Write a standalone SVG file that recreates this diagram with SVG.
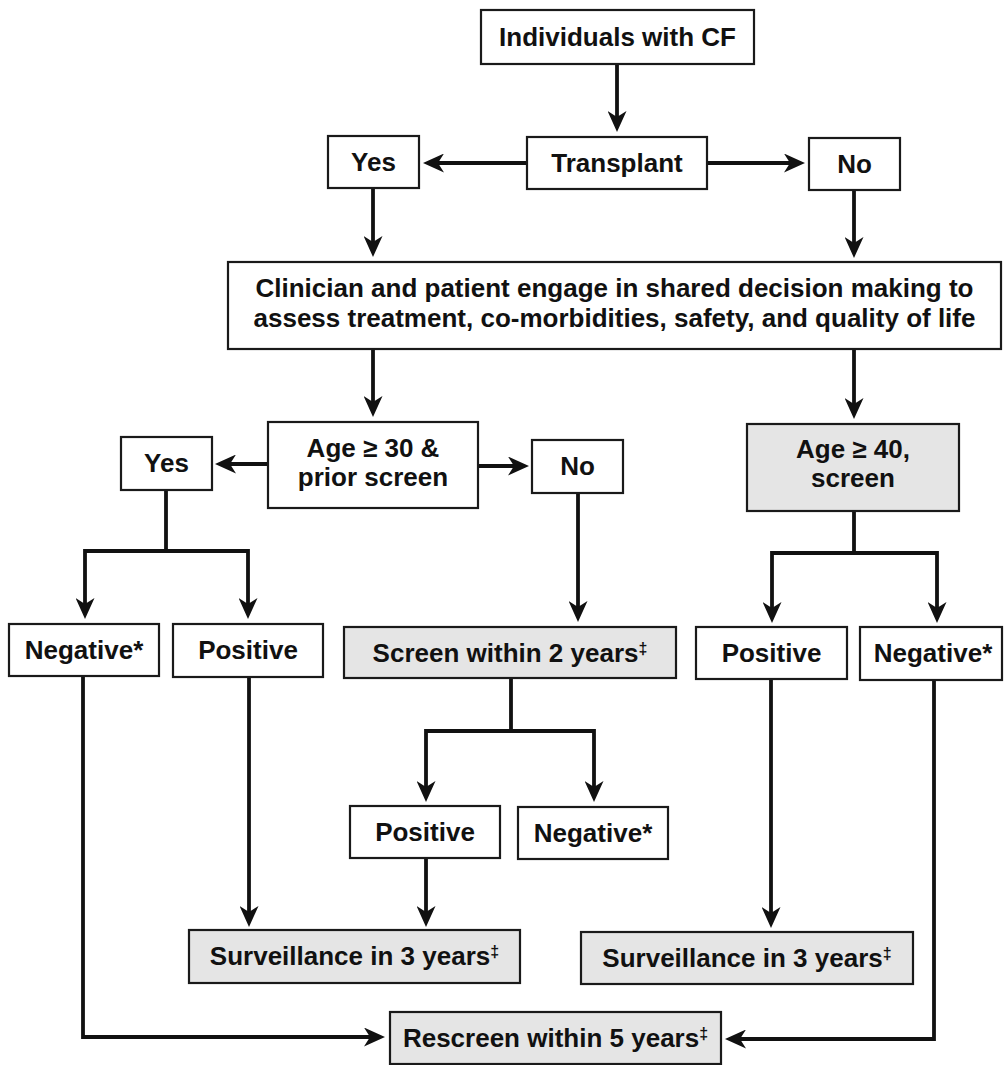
<svg xmlns="http://www.w3.org/2000/svg" width="1004" height="1065" viewBox="0 0 1004 1065">
<style>
.box{fill:#ffffff;stroke:#1a1a1a;stroke-width:2.2}
.gray{fill:#e5e5e5}
.t{font-family:"Liberation Sans",Arial,Helvetica,sans-serif;font-weight:bold;font-size:26px;fill:#111;text-anchor:middle}
.sup{font-size:16px}
.c{fill:none;stroke:#111;stroke-width:3.8;stroke-linejoin:miter;marker-end:url(#ah)}
</style>
<defs>
<marker id="ah" markerUnits="userSpaceOnUse" viewBox="0 0 21 19" markerWidth="21" markerHeight="19" refX="15" refY="9.5" orient="auto">
<path d="M21,9.5 L0,0 L6,9.5 L0,19 Z" fill="#111"/>
</marker>
</defs>
<rect width="1004" height="1065" fill="#ffffff"/>
<g id="connectors">
<path class="c" d="M617,64 V126"/>
<path class="c" d="M527,163 H429"/>
<path class="c" d="M707,163 H799"/>
<path class="c" d="M373,188 V251"/>
<path class="c" d="M854,190 V252"/>
<path class="c" d="M373,349 V411"/>
<path class="c" d="M854,349 V413"/>
<path class="c" d="M268,464 H221"/>
<path class="c" d="M478,466 H523"/>
<path class="c" d="M166,490 V551 H85 V613"/>
<path class="c" d="M166,551 H248 V613"/>
<path class="c" d="M854,511 V553 H772 V617"/>
<path class="c" d="M854,553 H937 V617"/>
<path class="c" d="M578,493 V616"/>
<path class="c" d="M511,678 V731 H426 V796"/>
<path class="c" d="M511,731 H594 V796"/>
<path class="c" d="M249,677 V921"/>
<path class="c" d="M426,858 V921"/>
<path class="c" d="M771,679 V922"/>
<path class="c" d="M83,676 V1037 H379"/>
<path class="c" d="M934,680 V1039 H731"/>
</g>
<g id="cf"><rect class="box" x="481" y="10" width="273" height="54"/><text class="t" x="617.5" y="46">Individuals with CF</text></g>
<g id="transplant"><rect class="box" x="527" y="137" width="180" height="52"/><text class="t" x="617" y="172">Transplant</text></g>
<g id="yes1"><rect class="box" x="328" y="136" width="91" height="52"/><text class="t" x="373.5" y="171">Yes</text></g>
<g id="no1"><rect class="box" x="809" y="138" width="91" height="52"/><text class="t" x="854.5" y="173">No</text></g>
<g id="clinician"><rect class="box" x="228" y="262" width="773" height="87"/><text class="t" x="614.5" y="297">Clinician and patient engage in shared decision making to</text><text class="t" x="614.5" y="327">assess treatment, co-morbidities, safety, and quality of life</text></g>
<g id="age30"><rect class="box" x="268" y="422" width="210" height="86"/><text class="t" x="373" y="457">Age ≥ 30 &amp;</text><text class="t" x="373" y="486">prior screen</text></g>
<g id="yes2"><rect class="box" x="121" y="437" width="91" height="53"/><text class="t" x="166.5" y="472">Yes</text></g>
<g id="no2"><rect class="box" x="532" y="440" width="91" height="53"/><text class="t" x="577.5" y="475">No</text></g>
<g id="age40"><rect class="box gray" x="747" y="424" width="212" height="87"/><text class="t" x="853" y="458">Age ≥ 40,</text><text class="t" x="853" y="487">screen</text></g>
<g id="neg1"><rect class="box" x="9" y="624" width="150" height="52"/><text class="t" x="84" y="659">Negative*</text></g>
<g id="pos1"><rect class="box" x="173" y="624" width="150" height="53"/><text class="t" x="248" y="659">Positive</text></g>
<g id="screen2"><rect class="box gray" x="344" y="627" width="332" height="51"/><text class="t" x="510" y="662">Screen within 2 years<tspan class="sup" dy="-8">‡</tspan></text></g>
<g id="pos2"><rect class="box" x="696" y="627" width="151" height="52"/><text class="t" x="771.5" y="662">Positive</text></g>
<g id="neg2"><rect class="box" x="860" y="627" width="142" height="53"/><text class="t" x="933" y="662">Negative*</text></g>
<g id="pos3"><rect class="box" x="350" y="806" width="150" height="52"/><text class="t" x="425" y="841">Positive</text></g>
<g id="neg3"><rect class="box" x="518" y="807" width="150" height="52"/><text class="t" x="593" y="842">Negative*</text></g>
<g id="surv1"><rect class="box gray" x="189" y="930" width="331" height="53"/><text class="t" x="354.5" y="965">Surveillance in 3 years<tspan class="sup" dy="-8">‡</tspan></text></g>
<g id="surv2"><rect class="box gray" x="581" y="932" width="332" height="52"/><text class="t" x="747" y="967">Surveillance in 3 years<tspan class="sup" dy="-8">‡</tspan></text></g>
<g id="rescreen"><rect class="box gray" x="390" y="1012" width="331" height="52"/><text class="t" x="555.5" y="1047">Rescreen within 5 years<tspan class="sup" dy="-8">‡</tspan></text></g>
</svg>
